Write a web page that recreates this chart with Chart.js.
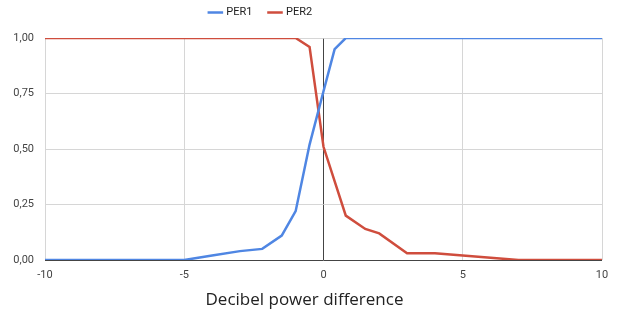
<!DOCTYPE html>
<html>
<head>
<meta charset="utf-8">
<script src="https://cdn.jsdelivr.net/npm/chart.js@4"></script>
<style>
  html, body { margin: 0; padding: 0; background: #fff; }
  #wrap { width: 618px; height: 316px; }
</style>
</head>
<body>
<div id="wrap"><canvas id="perChart" width="618" height="316"></canvas></div>
<script>
// values
const dbDiff = [-10, -5, -4, -3, -2.2, -1.5, -1, -0.5, 0, 0.4, 0.8, 1.5, 2, 3, 4, 5, 6, 7, 10];
const per1   = [0, 0, 0.02, 0.04, 0.05, 0.11, 0.22, 0.52, 0.76, 0.95, 1, 1, 1, 1, 1, 1, 1, 1, 1];
const per2   = [1, 1, 1, 1, 1, 1, 1, 0.96, 0.51, null, 0.20, 0.14, 0.12, 0.03, 0.03, 0.02, 0.01, 0, 0];
const xTicks = [-10, -5, 0, 5, 10];
const yTicks = [0, 0.25, 0.5, 0.75, 1];
const xTitle = 'Decibel power difference';

const toPoints = ys => dbDiff.map((x, i) => ({ x: x, y: ys[i] }));

// legend box is taller than its text, and sits left of centre in the original
const legendPlace = {
    id: 'legendPlace',
    beforeInit(chart) {
        const fit = chart.legend.fit;
        chart.legend.fit = function () {
            fit.bind(chart.legend)();
            this.height = 38;
        };
    },
    afterLayout(chart) {
        const lg = chart.legend;
        lg.top -= 10;
        lg.bottom -= 10;
        lg.left -= 40;
        lg.right -= 40;
    }
};

// axis title sits a little left of the plot centre in the original
const axisTitle = {
    id: 'axisTitle',
    afterDraw(chart) {
        const ctx = chart.ctx;
        const area = chart.chartArea;
        ctx.save();
        ctx.font = '17px "Open Sans"';
        ctx.fillStyle = '#222';
        ctx.textAlign = 'center';
        ctx.textBaseline = 'middle';
        ctx.fillText(xTitle, (area.left + area.right) / 2 - 19, area.bottom + 40);
        ctx.restore();
    }
};

new Chart(document.getElementById('perChart'), {
    type: 'line',
    data: {
        datasets: [
            {
                label: 'PER1',
                data: toPoints(per1),
                borderColor: '#4f86e3',
                backgroundColor: '#4f86e3',
                borderWidth: 2.5,
                pointRadius: 0,
                tension: 0,
                spanGaps: true,
            },
            {
                label: 'PER2',
                data: toPoints(per2),
                borderColor: '#cf4d3d',
                backgroundColor: '#cf4d3d',
                borderWidth: 2.5,
                pointRadius: 0,
                tension: 0,
                spanGaps: true,
            }
        ]
    },
    plugins: [legendPlace, axisTitle],
    options: {
        responsive: false,
        animation: false,
        layout: { padding: { left: 0, right: 16, top: 0, bottom: 6 } },
        plugins: {
            legend: {
                position: 'top',
                labels: {
                    usePointStyle: true,
                    pointStyle: 'line',
                    boxWidth: 14,
                    padding: 17,
                    color: '#222',
                    font: { family: 'Roboto', size: 11 },
                }
            },
            tooltip: { enabled: false }
        },
        scales: {
            x: {
                type: 'linear',
                min: -10,
                max: 10,
                afterBuildTicks: scale => { scale.ticks = xTicks.map(v => ({ value: v })); },
                border: { display: false },
                grid: {
                    color: ctx => ctx.tick && ctx.tick.value === 0 ? '#444' : '#d6d6d6',
                    lineWidth: 1,
                    drawTicks: false,
                },
                ticks: {
                    color: '#444',
                    padding: 9,
                    font: { family: 'Roboto', size: 11 },
                },
                afterFit: scale => { scale.height = 50; }
            },
            y: {
                min: 0,
                max: 1,
                afterBuildTicks: scale => { scale.ticks = yTicks.map(v => ({ value: v })); },
                border: { display: false },
                grid: {
                    color: ctx => ctx.tick && ctx.tick.value === 0 ? '#444' : '#d6d6d6',
                    lineWidth: 1,
                    drawTicks: false,
                },
                ticks: {
                    color: '#444',
                    padding: 11,
                    font: { family: 'Roboto', size: 11 },
                    callback: v => v.toFixed(2).replace('.', ',')
                },
                afterFit: scale => { scale.width = 45; }
            }
        }
    }
});
</script>
</body>
</html>
